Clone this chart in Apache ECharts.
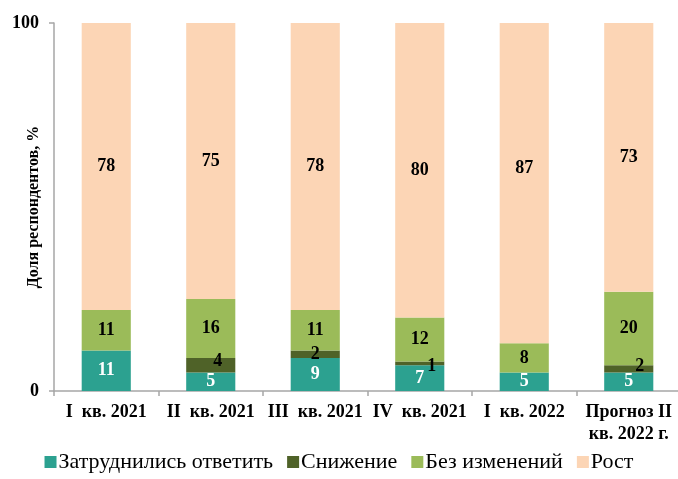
<!DOCTYPE html>
<html>
<head>
<meta charset="utf-8">
<script src="https://cdn.jsdelivr.net/npm/echarts@6/dist/echarts.min.js"></script>
<style>
    html, body { margin: 0; padding: 0; background: #fff; }
    #container { width: 678px; height: 479px; }
</style>
</head>
<body>
<div id="container"></div>
<script>
// categories and values (% of respondents)
const quarters = ['I  кв. 2021', 'II  кв. 2021', 'III  кв. 2021', 'IV  кв. 2021', 'I  кв. 2022', 'Прогноз II\nкв. 2022 г.'];
const hardToSay = [11, 5, 9, 7, 5, 5];
const decline = [0, 4, 2, 1, 0, 2];
const unchanged = [11, 16, 11, 12, 8, 20];
const growth = [78, 75, 78, 80, 87, 73];
const yTicks = [0, 100];

const seriesNames = ['Затруднились ответить', 'Снижение', 'Без изменений', 'Рост'];
const colors = ['#2ca190', '#4f6228', '#9bbb59', '#fcd5b5'];

const font = 'Liberation Serif, Times New Roman, serif';
const dom = document.getElementById('container');
const myChart = echarts.init(dom);

// label nudges for thin segments (as in original)
const declineOffsets = [[0, 0], [7, -4], [0, 0], [12, 3], [0, 0], [11, -3]];
const growthOffsets = [[0, 0], [0, 0], [0, 0], [0, 0], [0, -15], [0, 0]];

function makeSeries(name, values, color, labelColor, offsets) {
    return {
        name: name,
        type: 'bar',
        stack: 'total',
        barWidth: '47%',
        itemStyle: { color: color },
        label: {
            show: true,
            position: 'inside',
            color: labelColor,
            fontFamily: font,
            fontWeight: 'bold',
            fontSize: 18
        },
        data: values.map(function (v, i) {
            const item = { value: v };
            if (v === 0) {
                item.label = { show: false };
            } else if (offsets) {
                item.label = { offset: offsets[i] };
            }
            return item;
        })
    };
}

const option = {
    backgroundColor: '#fff',
    animation: false,
    color: colors,
    grid: {
        left: 54,
        right: -3,
        top: 23,
        bottom: 88,
        outerBoundsMode: 'none',
        containLabel: false
    },
    legend: {
        bottom: 1,
        left: 'center',
        itemWidth: 12,
        itemHeight: 12,
        itemGap: 14,
        icon: 'rect',
        textStyle: {
            fontFamily: font,
            fontSize: 22,
            color: '#000',
            padding: [0, 0, 0, -3]
        },
        data: seriesNames
    },
    xAxis: {
        type: 'category',
        data: quarters,
        axisLine: { lineStyle: { color: '#a6a6a6', width: 1.5 } },
        axisTick: { show: true, length: 5, lineStyle: { color: '#a6a6a6', width: 1.5 } },
        axisLabel: {
            interval: 0,
            margin: 10,
            color: '#000',
            fontFamily: font,
            fontWeight: 'bold',
            fontSize: 18,
            lineHeight: 22
        }
    },
    yAxis: {
        type: 'value',
        min: yTicks[0],
        max: yTicks[1],
        interval: 100,
        name: 'Доля респондентов, %',
        nameLocation: 'middle',
        nameGap: 12,
        nameMoveOverlap: false,
        nameTextStyle: {
            color: '#000',
            fontFamily: font,
            fontWeight: 'bold',
            fontSize: 16
        },
        splitLine: { show: false },
        axisLine: { show: true, lineStyle: { color: '#a6a6a6', width: 1.5 } },
        axisTick: { show: true, length: 5, lineStyle: { color: '#a6a6a6', width: 1.5 } },
        axisLabel: {
            margin: 15,
            color: '#000',
            fontFamily: font,
            fontWeight: 'bold',
            fontSize: 18
        }
    },
    series: [
        makeSeries(seriesNames[0], hardToSay, colors[0], '#fff', null),
        makeSeries(seriesNames[1], decline, colors[1], '#000', declineOffsets),
        makeSeries(seriesNames[2], unchanged, colors[2], '#000', null),
        makeSeries(seriesNames[3], growth, colors[3], '#000', growthOffsets)
    ]
};

myChart.setOption(option);
</script>
</body>
</html>
